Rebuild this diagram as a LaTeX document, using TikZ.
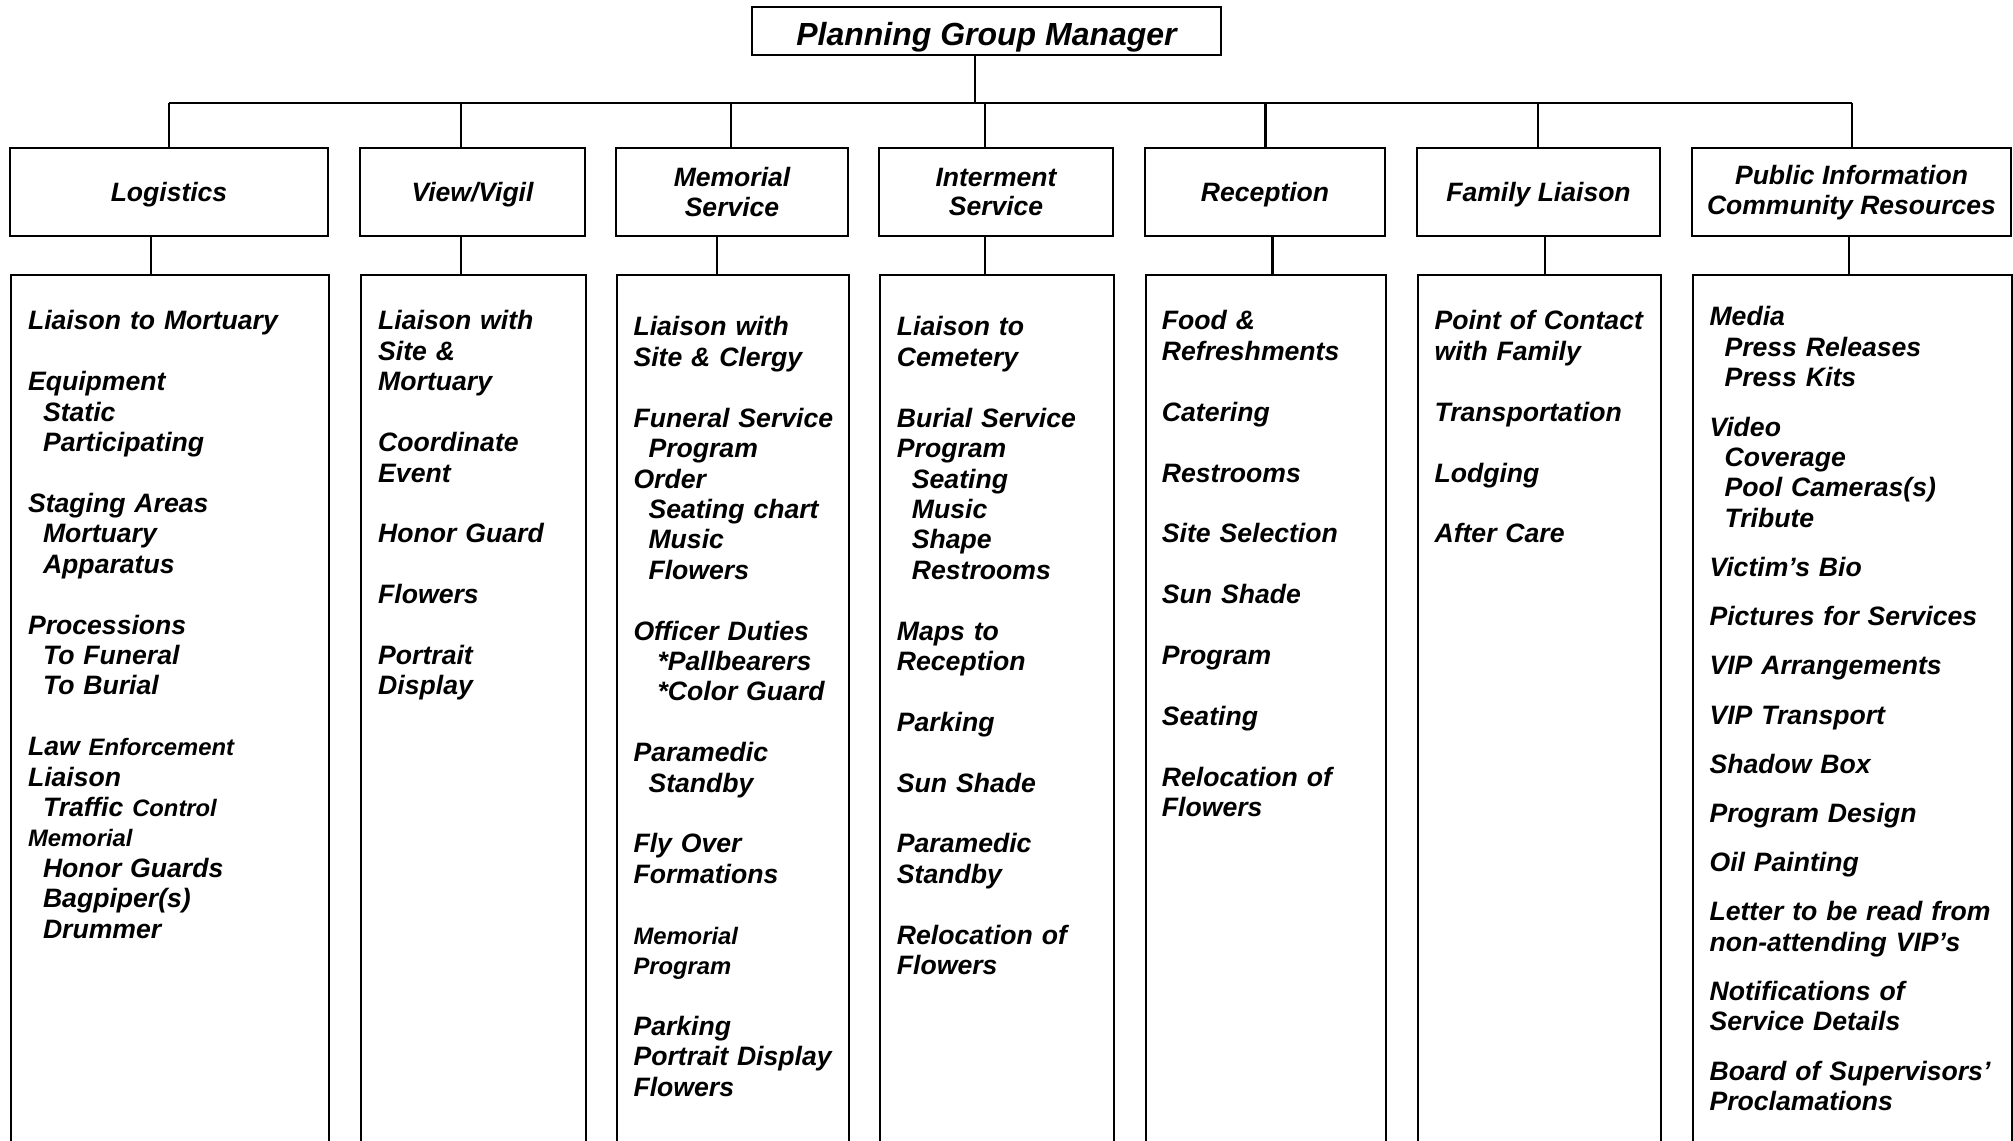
\documentclass[tikz,border=0pt]{standalone}
\usepackage{fontspec}
\setmainfont{Liberation Sans}

\newcommand\ind{\hspace*{0.15cm}}
\newcommand\indd{\hspace*{0.24cm}}
\newcommand\blankrow{\\[8.65pt]}
\newcommand\halfrow{\\[5.35pt]}
\newcommand\sm[1]{{\fontsize{6.77pt}{8.65pt}\selectfont #1}}

\begin{document}
\begin{tikzpicture}[
    line width=0.7pt,
    box/.style={draw, rectangle, inner sep=0pt},
    head/.style={box, minimum height=0.88cm, align=center,
        font=\bfseries\itshape\fontsize{7.55pt}{8.4pt}\selectfont},
    oneline/.style={text height=5.7pt, text depth=0.5pt},
    frame/.style={box, anchor=north west, minimum height=9.5cm},
    items/.style={anchor=base west, inner sep=0pt, text width=4cm, align=left,
        font=\bfseries\itshape\fontsize{7.57pt}{8.65pt}\selectfont},
    link/.style={line width=0.6pt}
]
    \useasboundingbox (0,0) rectangle (20.13,-11.41);
    \clip (0,0) rectangle (20.13,-11.41);

    % Capo del gruppo
    \node[box, minimum width=4.69cm, minimum height=0.48cm, text height=8.3pt, text depth=0pt,
        font=\bfseries\itshape\fontsize{9.1pt}{10pt}\selectfont] (mgr) at (9.865,-0.31) {Planning Group Manager};

    % Intestazioni
    \node[head, oneline, minimum width=3.18cm] (hLog) at (1.69,-1.92) {Logistics};
    \node[head, oneline, minimum width=2.25cm] (hView) at (4.725,-1.92) {View/Vigil};
    \node[head, minimum width=2.32cm] (hMem) at (7.32,-1.92) {Memorial\\Service};
    \node[head, minimum width=2.34cm] (hInt) at (9.96,-1.92) {Interment\\Service};
    \node[head, oneline, minimum width=2.40cm] (hRec) at (12.65,-1.92) {Reception};
    \node[head, oneline, minimum width=2.43cm] (hFam) at (15.385,-1.92) {Family Liaison};
    \node[head, minimum width=3.19cm, text depth=1.2pt] (hPub) at (18.515,-1.92) {Public Information\\Community Resources};

    % Riquadri dei compiti
    \node[frame, minimum width=3.18cm] (bLog) at (0.10,-2.74) {};
    \node[frame, minimum width=2.25cm] (bView) at (3.60,-2.74) {};
    \node[frame, minimum width=2.32cm] (bMem) at (6.16,-2.74) {};
    \node[frame, minimum width=2.34cm] (bInt) at (8.79,-2.74) {};
    \node[frame, minimum width=2.40cm] (bRec) at (11.45,-2.74) {};
    \node[frame, minimum width=2.43cm] (bFam) at (14.17,-2.74) {};
    \node[frame, minimum width=3.19cm] (bPub) at (16.92,-2.74) {};

    % Collegamenti
    \coordinate (top) at (9.75,-1.03);
    \coordinate (busL) at (1.69,-1.03);
    \coordinate (busR) at (18.52,-1.03);
    \draw[link] (top |- mgr.south) -- (top);
    \draw[link] (busL) -- (busR);
    \foreach \h/\x in {hLog/1.69, hView/4.61, hMem/7.31, hInt/9.85, hRec/12.655, hFam/15.38, hPub/18.52}
        \draw[link] (\x,0 |- busL) -- (\x,0 |- \h.north);
    \foreach \h/\b/\x in {hLog/bLog/1.51, hView/bView/4.61, hMem/bMem/7.17, hInt/bInt/9.85,
            hRec/bRec/12.725, hFam/bFam/15.45, hPub/bPub/18.49}
        \draw[link] (\x,0 |- \h.south) -- (\x,0 |- \b.north);

    % Elenchi
    \node[items] (tLog) at (0.268,-3.30) {Liaison to Mortuary\blankrow
        Equipment\\ \ind Static\\ \ind Participating\blankrow
        Staging Areas\\ \ind Mortuary\\ \ind Apparatus\blankrow
        Processions\\ \ind To Funeral\\ \ind To Burial\blankrow
        Law \sm{Enforcement}\\ Liaison\\ \ind Traffic \sm{Control}\\ \sm{Memorial}\\
        \ind Honor Guards\\ \ind Bagpiper(s)\\ \ind Drummer};

    \node[items] (tView) at (3.77,-3.30) {Liaison with\\ Site \&\\ Mortuary\blankrow
        Coordinate\\ Event\blankrow
        Honor Guard\blankrow
        Flowers\blankrow
        Portrait\\ Display};

    \node[items] (tMem) at (6.323,-3.36) {Liaison with\\ Site \& Clergy\blankrow
        Funeral Service\\ \ind Program\\ Order\\ \ind Seating chart\\ \ind Music\\ \ind Flowers\blankrow
        Officer Duties\\ \indd *Pallbearers\\ \indd *Color Guard\blankrow
        Paramedic\\ \ind Standby\blankrow
        Fly Over\\ Formations\blankrow
        \sm{Memorial}\\ \sm{Program}\blankrow
        Parking\\ Portrait Display\\ Flowers};

    \node[items] (tInt) at (8.957,-3.36) {Liaison to\\ Cemetery\blankrow
        Burial Service\\ Program\\ \ind Seating\\ \ind Music\\ \ind Shape\\ \ind Restrooms\blankrow
        Maps to\\ Reception\blankrow
        Parking\blankrow
        Sun Shade\blankrow
        Paramedic\\ Standby\blankrow
        Relocation of\\ Flowers};

    \node[items] (tRec) at (11.607,-3.30) {Food \&\\ Refreshments\blankrow
        Catering\blankrow
        Restrooms\blankrow
        Site Selection\blankrow
        Sun Shade\blankrow
        Program\blankrow
        Seating\blankrow
        Relocation of\\ Flowers};

    \node[items] (tFam) at (14.333,-3.30) {Point of Contact\\ with Family\blankrow
        Transportation\blankrow
        Lodging\blankrow
        After Care};

    \node[items] (tPub) at (17.083,-3.26) {Media\\ \ind Press Releases\\ \ind Press Kits\halfrow
        Video\\ \ind Coverage\\ \ind Pool Cameras(s)\\ \ind Tribute\halfrow
        Victim's Bio\halfrow
        Pictures for Services\halfrow
        VIP Arrangements\halfrow
        VIP Transport\halfrow
        Shadow Box\halfrow
        Program Design\halfrow
        Oil Painting\halfrow
        Letter to be read from\\ non-attending VIP's\halfrow
        Notifications of\\ Service Details\halfrow
        Board of Supervisors'\\ Proclamations};
\end{tikzpicture}
\end{document}
